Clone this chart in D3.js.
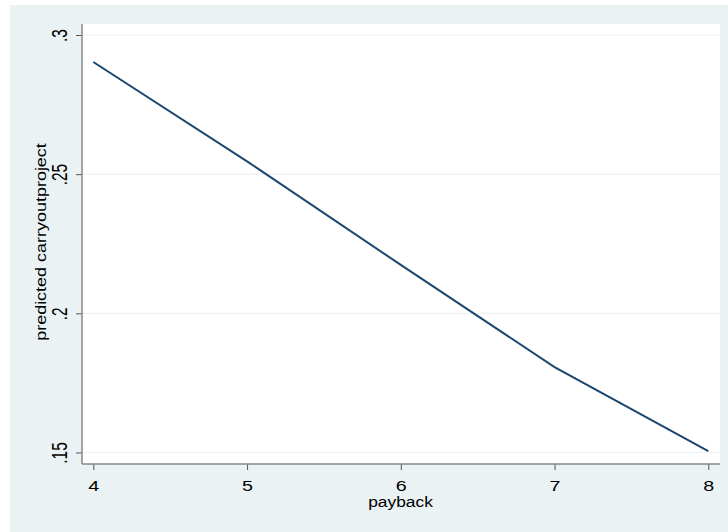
<!DOCTYPE html>
<html>
<head>
<meta charset="utf-8">
<script src="https://cdn.jsdelivr.net/npm/d3@7"></script>
<style>
html,body{margin:0;padding:0;background:#ffffff;}
svg{display:block;}
text{font-family:"Liberation Sans",Arial,sans-serif;fill:#000;}
</style>
</head>
<body>
<svg id="chart" width="728" height="532"></svg>
<script>
const payback = [4, 5, 6, 7, 8];
const predicted = [0.2903, 0.2546, 0.2174, 0.1807, 0.1505];
const xTicks = [4, 5, 6, 7, 8];
const yTicks = [0.15, 0.2, 0.25, 0.3];
const yTickLabels = [".15", ".2", ".25", ".3"];
const xTitle = "payback";
const yTitle = "predicted carryoutproject";

const svg = d3.select("#chart");
// outer graph region
svg.append("rect").attr("x", 10).attr("y", 5).attr("width", 718).attr("height", 527).attr("fill", "#eaf2f3");
// plot region
const plot = {left: 82, top: 24, right: 720, bottom: 464};
svg.append("rect").attr("x", plot.left).attr("y", plot.top)
  .attr("width", plot.right - plot.left).attr("height", plot.bottom - plot.top).attr("fill", "#ffffff");

const x = d3.scaleLinear().domain([4, 8]).range([93.3, 708.3]);
const y = d3.scaleLinear().domain([0.15, 0.3]).range([452.5, 35]);

// gridlines
svg.append("g").selectAll("line").data(yTicks).join("line")
  .attr("x1", plot.left).attr("x2", plot.right)
  .attr("y1", d => y(d)).attr("y2", d => y(d))
  .attr("stroke", "#eaf2f3").attr("stroke-width", 1.2);

// line
svg.append("path")
  .datum(payback.map((p, i) => [p, predicted[i]]))
  .attr("d", d3.line().x(d => x(d[0])).y(d => y(d[1])))
  .attr("fill", "none").attr("stroke", "#1a476f").attr("stroke-width", 2);

// x axis
const xAxis = svg.append("g").attr("transform", `translate(0,${plot.bottom})`)
  .call(d3.axisBottom(x).tickValues(xTicks).tickFormat(d3.format("d")).tickSize(6).tickSizeOuter(0));
xAxis.select(".domain").remove();
xAxis.selectAll(".tick line").attr("stroke", "#555").attr("stroke-width", 1);
xAxis.selectAll(".tick text")
  .attr("font-size", 15.4).attr("font-family", "Liberation Sans, Arial, sans-serif").attr("fill", "#000")
  .attr("y", 27).attr("dy", 0)
  .attr("transform", "scale(1.28,1)");
svg.append("line").attr("x1", plot.left).attr("x2", plot.right).attr("y1", plot.bottom).attr("y2", plot.bottom)
  .attr("stroke", "#888").attr("stroke-width", 1.5);

// y axis
const yAxis = svg.append("g").attr("transform", `translate(${plot.left},0)`)
  .call(d3.axisLeft(y).tickValues(yTicks).tickFormat((d, i) => yTickLabels[i]).tickSize(6).tickSizeOuter(0));
yAxis.select(".domain").remove();
yAxis.selectAll(".tick line").attr("stroke", "#555").attr("stroke-width", 1);
yAxis.selectAll(".tick text")
  .attr("font-size", 15.4).attr("font-family", "Liberation Sans, Arial, sans-serif").attr("fill", "#000")
  .attr("text-anchor", "middle").attr("dy", 0).attr("x", 0)
  .attr("transform", "translate(-15,0) scale(1.38,1) rotate(-90)");
svg.append("line").attr("x1", plot.left).attr("x2", plot.left).attr("y1", plot.top).attr("y2", plot.bottom)
  .attr("stroke", "#888").attr("stroke-width", 1.5);

// titles
svg.append("text").attr("transform", `translate(${(plot.left + plot.right) / 2 - 0.5},507) scale(1.2,1)`)
  .attr("text-anchor", "middle").attr("font-size", 14.5).text(xTitle);
svg.append("text").attr("transform", `translate(45.5,242) scale(1.05,1.24) rotate(-90)`)
  .attr("text-anchor", "middle").attr("font-size", 14.5).text(yTitle);
</script>
</body>
</html>
